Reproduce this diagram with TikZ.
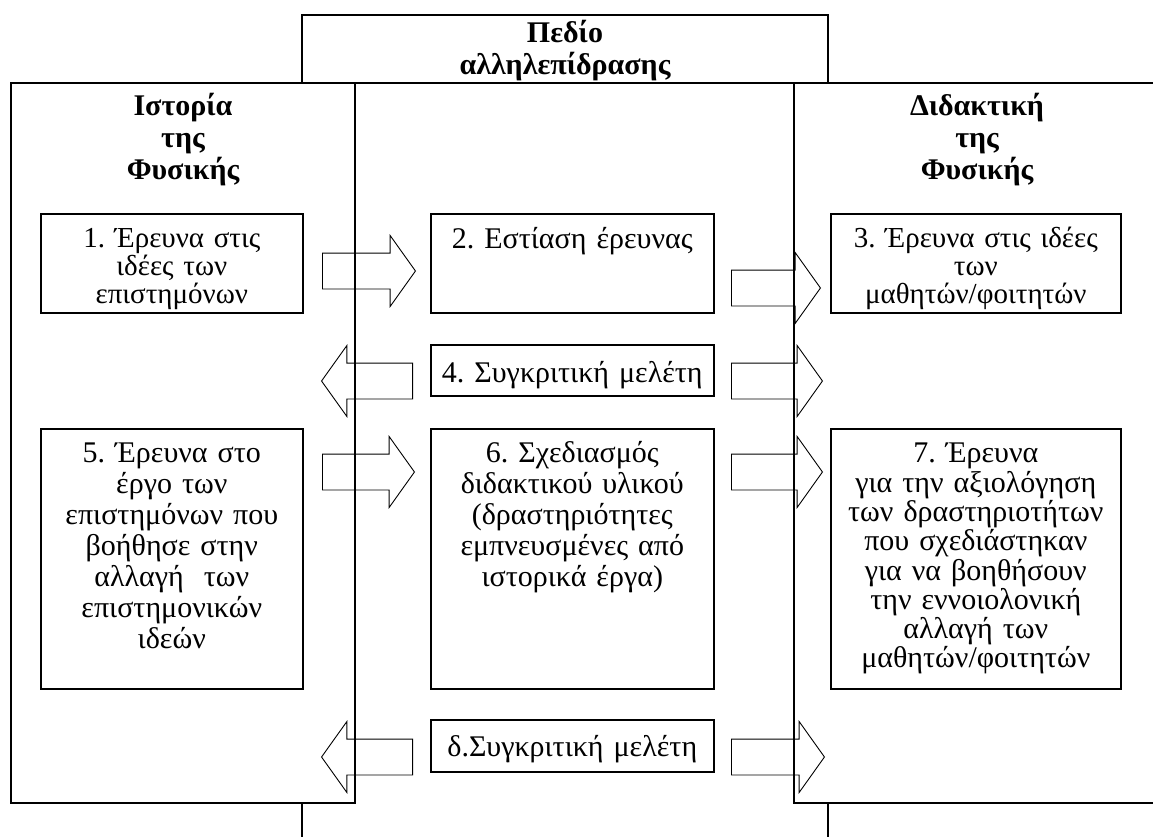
\documentclass[tikz,border=0pt]{standalone}
\usepackage{fontspec}
\setmainfont{Liberation Serif}
\usetikzlibrary{shapes.arrows}
\frenchspacing
\tikzset{
  marco/.style={draw, line width=1.6pt, fill=white},
  titulo/.style={font=\bfseries\fontsize{30}{32}\selectfont, text width=340pt,
    align=center, anchor=base, inner sep=0pt},
  caja/.style={draw, line width=1.6pt, fill=white, inner sep=0pt, align=center,
    anchor=north west, font=\fontsize{30}{31}\selectfont},
  flecha/.style={single arrow, draw, line width=0.9pt, inner sep=17.5pt,
    single arrow head extend=17.5pt, single arrow tip angle=109, anchor=tail},
  flechaI/.style={flecha, shape border rotate=180}
}
\begin{document}
\begin{tikzpicture}[x=1pt, y=-1pt]
  \useasboundingbox (0,0) rectangle (1153,837);
  % marcos
  \draw[marco] (302,15) rectangle (828,860);
  \draw[line width=1.6pt] (302,83) -- (828,83);
  \draw[marco] (11,83) rectangle (355,803);
  \draw[marco] (794,83) rectangle (1175,803);
  \node[titulo] (tPed) at (565,43) {Πεδίο\\αλληλεπίδρασης};
  \node[titulo] (tHis) at (183,116) {Ιστορία\\της\\Φυσικής};
  \node[titulo] (tDid) at (977,116) {Διδακτική\\της\\Φυσικής};
  % cajas
  \node[caja, text width=262pt, text height=34pt, text depth=65pt,
    font=\fontsize{29}{28}\selectfont] (c1) at (40,213)
    {1. Έρευνα στις\\ιδέες των\\επιστημόνων};
  \node[caja, text width=283pt, text height=35pt, text depth=64pt] (c2) at (430,213)
    {2. Εστίαση έρευνας};
  \node[caja, text width=290pt, text height=34pt, text depth=65pt,
    font=\fontsize{29}{28}\selectfont] (c3) at (830,213)
    {3. Έρευνα στις ιδέες\\των\\μαθητών/φοιτητών};
  \node[caja, text width=283pt, text height=38pt, text depth=13pt] (c4) at (430,344)
    {4. Συγκριτική μελέτη};
  \node[caja, text width=262pt, text height=34pt, text depth=226pt] (c5) at (40,428)
    {5. Έρευνα στο\\έργο των\\επιστημόνων που\\βοήθησε στην\\αλλαγή~~των\\επιστημονικών\\ιδεών};
  \node[caja, text width=283pt, text height=34pt, text depth=226pt] (c6) at (430,428)
    {6. Σχεδιασμός\\διδακτικού υλικού\\(δραστηριότητες\\εμπνευσμένες από\\ιστορικά έργα)};
  \node[caja, text width=290pt, text height=34pt, text depth=226pt,
    font=\fontsize{30}{29.3}\selectfont] (c7) at (830,428)
    {7. Έρευνα\\για την αξιολόγηση\\των δραστηριοτήτων\\που σχεδιάστηκαν\\για να βοηθήσουν\\την εννοιολονική\\αλλαγή των\\μαθητών/φοιτητών};
  \node[caja, text width=283pt, text height=37pt, text depth=15pt] (cd) at (430,719)
    {δ.Συγκριτική μελέτη};
  % flechas
  \node[flecha, minimum height=93pt] (f12) at (322,271) {};
  \node[flecha, minimum height=89pt] (f23) at (731,288) {};
  \node[flechaI, minimum height=91pt] (f4i) at (413,381) {};
  \node[flecha, minimum height=91pt] (f4d) at (731,381) {};
  \node[flecha, minimum height=92pt] (f56) at (322,472) {};
  \node[flecha, minimum height=91pt] (f67) at (731,472) {};
  \node[flechaI, minimum height=91pt] (fdi) at (413,757) {};
  \node[flecha, minimum height=93pt] (fdd) at (731,757) {};
\end{tikzpicture}
\end{document}
